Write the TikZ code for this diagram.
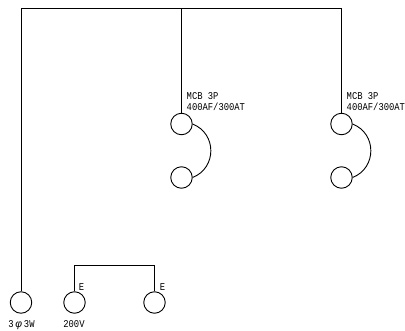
\documentclass[tikz,border=0pt]{standalone}
\usepackage{fontspec}
\setmainfont[FakeStretch=0.85]{Liberation Mono}
\newfontfamily\symbfont{Liberation Sans}
\usepackage{tikz}
\usetikzlibrary{calc,positioning}
\tikzset{
    terminal/.style={
    circle,draw=black,line width=0.9pt,minimum size=21.5pt,inner sep=0pt
    },
    wire/.style={
    draw=black,line width=0.9pt
    },
    breakerlabel/.style={
    align=left,inner sep=0pt,anchor=west,font=\fontsize{10.4}{11}\selectfont
    },
    smalllabel/.style={
    inner sep=0pt,anchor=base,font=\fontsize{10.4}{11}\selectfont
    },
}
\begin{document}
\begin{tikzpicture}[x=1pt,y=-1pt]
  \useasboundingbox (0,0) rectangle (405,330);

  \node[terminal] (SRC) at (21,302.5) {};
  \node[terminal] (EA) at (74.5,302.5) {};
  \node[terminal] (EB) at (154.5,302.5) {};
  \node[terminal] (MCBA1) at (181.5,124) {};
  \node[terminal] (MCBA2) at (181.5,177.5) {};
  \node[terminal] (MCBB1) at (341.5,124) {};
  \node[terminal] (MCBB2) at (341.5,177.5) {};

  \coordinate (BUSL) at (21,8.5);
  \coordinate (BUSM) at (181.5,8.5);
  \coordinate (BUSR) at (341.5,8.5);
  \coordinate (EL) at (74.5,265);
  \coordinate (ER) at (154.5,265);

  \node[breakerlabel] (LBLA) at (186.5,102) {MCB 3P\\400AF/300AT};
  \node[breakerlabel] (LBLB) at (346.5,102) {MCB 3P\\400AF/300AT};
  \node[smalllabel] (LBLE1) at (81.5,290.5) {E};
  \node[smalllabel] (LBLE2) at (162.5,290.5) {E};
  \node[smalllabel] (LBLSRC) at (21.5,327.5) {3\,{\symbfont\itshape φ}\,3W};
  \node[smalllabel] (LBLV) at (74,327.5) {200V};

  \draw[wire] (SRC.north) -- (BUSL) -- (BUSR) -- (MCBB1.north);
  \draw[wire] (BUSM) -- (MCBA1.north);
  \draw[wire] (EA.north) -- (EL) -- (ER) -- (EB.north);
  \path[wire]
    (MCBA1.east) edge [bend left=68,looseness=1.25] (MCBA2.east)
    (MCBB1.east) edge [bend left=68,looseness=1.25] (MCBB2.east);
\end{tikzpicture}
\end{document}
